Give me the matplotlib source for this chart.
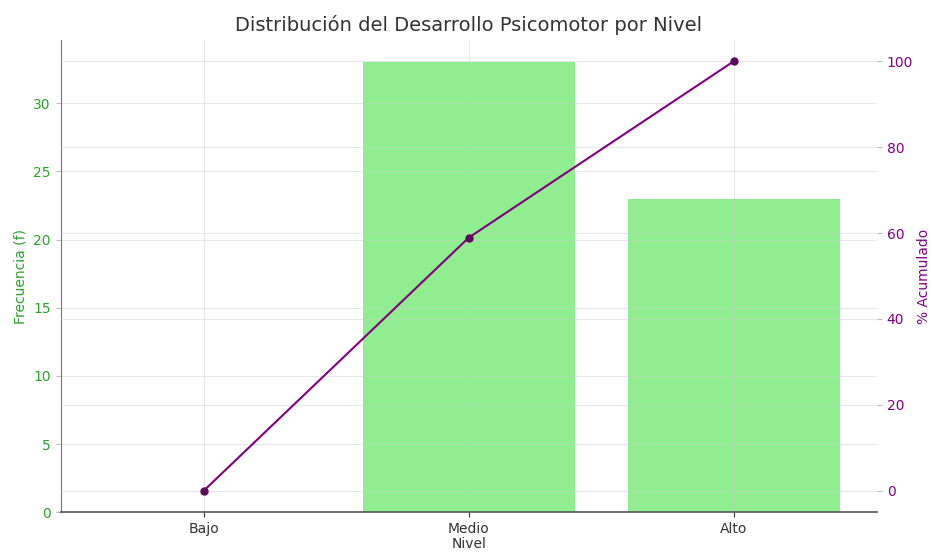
import matplotlib
matplotlib.use("Agg")
import matplotlib.pyplot as plt

niveles = ["Bajo", "Medio", "Alto"]
frecuencia = [0, 33, 23]
porcentaje_acumulado = [0.0, 58.93, 100.0]

fig, ax1 = plt.subplots(figsize=(9.31, 5.52), dpi=100)

# Bars for frequency
ax1.bar(niveles, frecuencia, color="lightgreen", width=0.8, zorder=1)
ax1.set_xlabel("Nivel", color="#333333", labelpad=1)
ax1.set_ylabel("Frecuencia (f)", color="#2ca02c")
ax1.tick_params(axis="y", labelcolor="#2ca02c", color="#bbbbbb")
ax1.tick_params(axis="x", colors="#333333")
ax1.grid(True, color="#cccccc", linewidth=0.8, alpha=0.45, zorder=3)

# Cumulative percentage line
ax2 = ax1.twinx()
ax2.plot(niveles, porcentaje_acumulado, color="purple", marker="o", markersize=5,
         linewidth=1.5, markerfacecolor="#5a0a5a", markeredgecolor="#5a0a5a")
ax2.set_ylabel("% Acumulado", color="purple", labelpad=3)
ax2.tick_params(axis="y", labelcolor="purple", color="#bbbbbb")
ax2.grid(True, color="#cccccc", linewidth=0.8, alpha=0.45)

for ax in (ax1, ax2):
    ax.spines["top"].set_visible(False)
    ax.spines["right"].set_visible(False)
ax1.spines["left"].set_color("#777777")
ax1.spines["bottom"].set_color("#555555")
ax1.spines["bottom"].set_linewidth(1.2)
ax2.spines["left"].set_visible(False)
ax2.spines["bottom"].set_visible(False)

ax1.set_title("Distribución del Desarrollo Psicomotor por Nivel", fontsize=14, color="#333333")

fig.subplots_adjust(left=0.065, right=0.942, top=0.928, bottom=0.072)
fig.savefig("out.png", dpi=100)
